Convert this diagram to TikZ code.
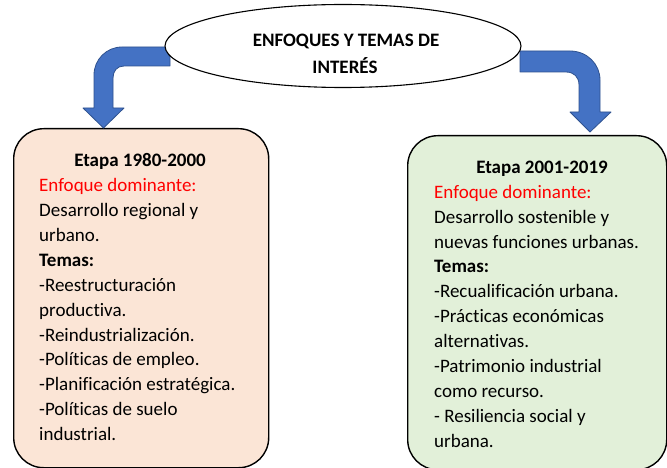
\documentclass[tikz,border=0pt]{standalone}
\usepackage{fontspec}
\setmainfont{Carlito}[Ligatures=NoCommon]
\usetikzlibrary{shapes.geometric}
\definecolor{peach}{HTML}{FBE5D6}
\definecolor{mint}{HTML}{E2F0D9}
\definecolor{arrowblue}{HTML}{4472C4}
\definecolor{arrowedge}{HTML}{2F528F}
\definecolor{txtred}{HTML}{FF0000}
\begin{document}
\begin{tikzpicture}[x=1pt,y=-1pt,
  stagebox/.style={draw=black, line width=1.4pt, rounded corners=30pt, inner sep=0pt},
  bodytext/.style={anchor=base west, inner sep=0pt, font=\fontsize{19}{25}\selectfont},
  titletext/.style={anchor=base, inner sep=0pt, font=\fontsize{19}{25}\selectfont\bfseries},
  bentarrow/.style={fill=arrowblue, draw=arrowedge, line width=0.8pt, line join=round}]
\clip (0,0) rectangle (667,468);
\fill[white] (0,0) rectangle (667,468);
% boxes
\node[stagebox, fill=peach, minimum width=255pt, minimum height=339pt, anchor=north west] (left) at (13,128) {};
\node[stagebox, fill=mint, minimum width=259pt, minimum height=334pt, anchor=north west] (right) at (407,135) {};
% arrows
\path[bentarrow] (170,47) -- (122,47) .. controls (106.5,47) and (94,59.5) .. (94,75)
  -- (94,108) -- (83,108) -- (103.5,128) -- (124,108) -- (113,108) -- (113,78)
  .. controls (113,71) and (117,66) .. (124,66) -- (170,66) -- cycle;
\path[bentarrow] (520,51) -- (570,51) .. controls (587,51) and (600,64) .. (600,80)
  -- (600,112) -- (611,112) -- (590,132) -- (570,112) -- (579,112) -- (579,85)
  .. controls (579,77) and (574,72) .. (566,72) -- (520,72) -- cycle;
% header ellipse
\node[draw=black, line width=1.1pt, fill=white, ellipse, minimum width=356pt, minimum height=83pt, inner sep=0pt] (head) at (343,46) {};
\node[titletext] (h1) at (346,47) {ENFOQUES Y TEMAS DE};
\node[titletext] (h2) at (345,74) {INTERÉS};
% left content
\node[titletext] (lt) at (140,166.7) {Etapa 1980-2000};
\foreach \t [count=\i] in {{\textcolor{txtred}{Enfoque dominante:}},
  {Desarrollo regional y}, {urbano.}, {\textbf{Temas:}},
  {-Reestructuración}, {productiva.}, {-Reindustrialización.},
  {-Políticas de empleo.}, {-Planificación estratégica.},
  {-Políticas de suelo}, {industrial.}}
  \node[bodytext] (l\i) at (39,166.7+\i*24.9) {\t};
% right content
\node[titletext] (rt) at (542,173.3) {Etapa 2001-2019};
\foreach \t [count=\i] in {{\textcolor{txtred}{Enfoque dominante:}},
  {Desarrollo sostenible y}, {nuevas funciones urbanas.}, {\textbf{Temas:}},
  {-Recualificación urbana.}, {-Prácticas económicas}, {alternativas.},
  {-Patrimonio industrial}, {como recurso.},
  {- Resiliencia social y}, {urbana.}}
  \node[bodytext] (r\i) at (434,173.3+\i*24.9) {\t};
\end{tikzpicture}
\end{document}
